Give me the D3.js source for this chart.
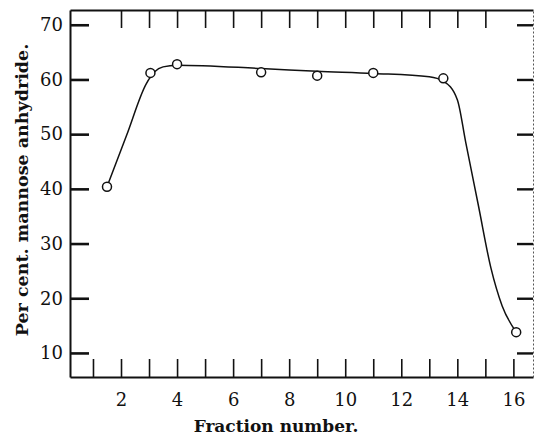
<!DOCTYPE html>
<html>
<head>
<meta charset="utf-8">
<script src="https://cdn.jsdelivr.net/npm/d3@7"></script>
<style>
body { margin: 0; background: #fff; }
svg text { font-family: "DejaVu Serif", serif; fill: #111; }
</style>
</head>
<body>
<div id="chart"></div>
<script>
// measured points (fraction number, % mannose anhydride)
var fractions = [1.5, 3.05, 4, 7, 9, 11, 13.5, 16.1];
var percents = [40.4, 61.2, 62.8, 61.3, 60.7, 61.2, 60.2, 13.8];

// hand drawn smooth curve through the points
var curveX = [1.5, 2.2, 2.9, 3.2, 3.5, 4.0, 7, 9, 11, 13, 13.5, 14.0, 14.3, 14.75, 15.2, 15.6, 16.1];
var curveY = [40.4, 49.8, 59.2, 61.4, 62.3, 62.6, 62.0, 61.5, 61.1, 60.5, 59.7, 56.3, 48.5, 37, 25.5, 18.6, 13.8];

var yTicks = [10, 20, 30, 40, 50, 60, 70];
var xLabelTicks = [2, 4, 6, 8, 10, 12, 14, 16];
var xBottomTicks = d3.range(1, 17);
var xTopTicks = d3.range(2, 16);

var width = 535;
var height = 436;
// plot frame
var plotL = 70, plotR = 533, plotT = 10, plotB = 377;

var svg = d3.select("#chart")
    .append("svg")
    .attr("width", width)
    .attr("height", height);

var x = d3.scaleLinear().domain([0.18, 16.7]).range([plotL, plotR]);
var y = d3.scaleLinear().domain([5.6, 72.7]).range([plotB, plotT]);

// bottom ticks (inward, no labels)
svg.append("g")
    .attr("transform", "translate(0," + plotB + ")")
    .call(d3.axisBottom(x).tickValues(xBottomTicks).tickSizeInner(-18).tickSizeOuter(0).tickFormat(""))
    .call(function(g) {
        g.select(".domain").attr("stroke", "#111").attr("stroke-width", 2);
        g.selectAll(".tick line").attr("stroke", "#111").attr("stroke-width", 1.6);
    });

// bottom labels
svg.append("g")
    .attr("transform", "translate(0," + plotB + ")")
    .call(d3.axisBottom(x).tickValues(xLabelTicks).tickSize(0).tickPadding(16))
    .call(function(g) {
        g.select(".domain").remove();
        g.selectAll("text").attr("font-size", 18).attr("font-family", "DejaVu Serif").attr("fill", "#111");
    });

// top ticks
svg.append("g")
    .attr("transform", "translate(0," + plotT + ")")
    .call(d3.axisTop(x).tickValues(xTopTicks).tickSizeInner(-18).tickSizeOuter(0).tickFormat(""))
    .call(function(g) {
        g.select(".domain").attr("stroke", "#111").attr("stroke-width", 2);
        g.selectAll(".tick line").attr("stroke", "#111").attr("stroke-width", 1.6);
    });

// left axis
svg.append("g")
    .attr("transform", "translate(" + plotL + ",0)")
    .call(d3.axisLeft(y).tickValues(yTicks).tickSizeInner(-19).tickSizeOuter(0).tickPadding(7))
    .call(function(g) {
        g.select(".domain").attr("stroke", "#111").attr("stroke-width", 2);
        g.selectAll(".tick line").attr("stroke", "#111").attr("stroke-width", 2.6);
        g.selectAll("text").attr("font-size", 18).attr("font-family", "DejaVu Serif").attr("fill", "#111");
    });

// right axis
svg.append("g")
    .attr("transform", "translate(" + plotR + ",0)")
    .call(d3.axisRight(y).tickValues(yTicks).tickSizeInner(-16).tickSizeOuter(0).tickFormat(""))
    .call(function(g) {
        g.select(".domain").attr("stroke", "#555").attr("stroke-width", 1).attr("stroke-dasharray", "2,2");
        g.selectAll(".tick line").attr("stroke", "#111").attr("stroke-width", 2.4);
    });

// curve
var curvePts = curveX.map(function(d, i) { return [d, curveY[i]]; });
var line = d3.line()
    .x(function(d) { return x(d[0]); })
    .y(function(d) { return y(d[1]); })
    .curve(d3.curveMonotoneX);

svg.append("path")
    .datum(curvePts)
    .attr("d", line)
    .attr("fill", "none")
    .attr("stroke", "#111")
    .attr("stroke-width", 1.5);

// points
var pts = fractions.map(function(d, i) { return [d, percents[i]]; });
svg.selectAll("circle.pt")
    .data(pts)
    .enter()
    .append("circle")
    .attr("class", "pt")
    .attr("cx", function(d) { return x(d[0]); })
    .attr("cy", function(d) { return y(d[1]); })
    .attr("r", 4.5)
    .attr("fill", "#fff")
    .attr("stroke", "#111")
    .attr("stroke-width", 1.5);

// axis titles
svg.append("text")
    .attr("x", 276)
    .attr("y", 432)
    .attr("text-anchor", "middle")
    .attr("font-size", 17)
    .attr("font-weight", "bold")
    .text("Fraction number.");

svg.append("text")
    .attr("transform", "translate(28,190) rotate(-90)")
    .attr("text-anchor", "middle")
    .attr("font-size", 17.5)
    .attr("font-weight", "bold")
    .text("Per cent. mannose anhydride.");
</script>
</body>
</html>
